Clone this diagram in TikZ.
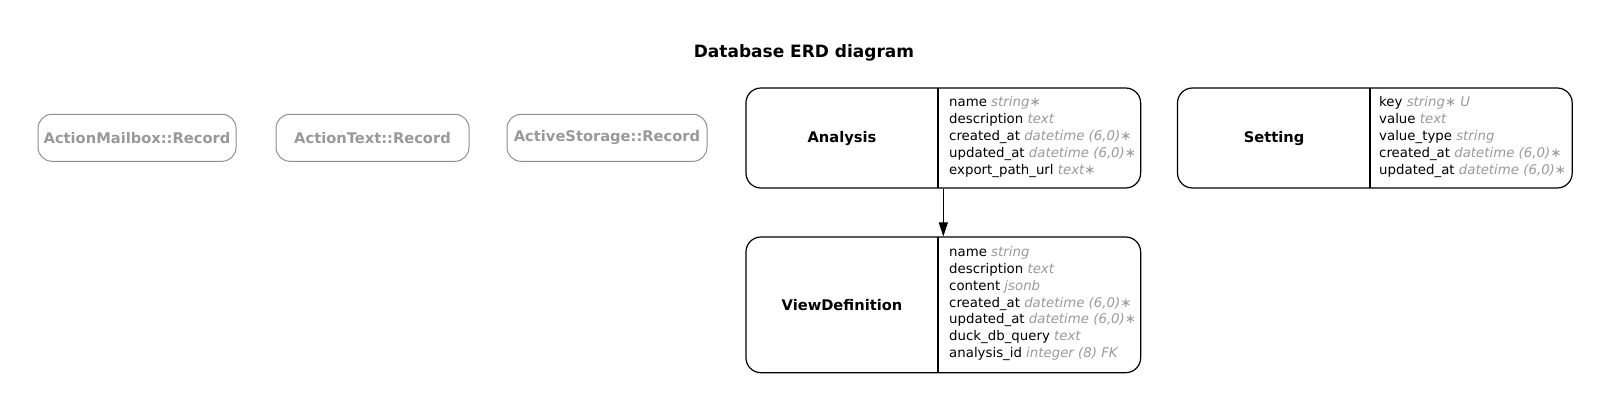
\documentclass[tikz,border=0pt]{standalone}
\usepackage{fontspec}
\setmainfont{DejaVu Sans}[ItalicFont={DejaVu Sans Oblique},BoldFont={DejaVu Sans Bold}]
\usetikzlibrary{arrows.meta}
\definecolor{attrgray}{HTML}{999999}
\definecolor{boxgray}{HTML}{8E8E8E}
\newcommand\ty[1]{{\color{attrgray}\itshape #1}}
\begin{document}
\begin{tikzpicture}[x=1pt,y=-1pt,
  entity/.style={draw, line width=1.2pt, rounded corners=15pt, inner sep=0pt, minimum width=394.7pt},
  ename/.style={font=\fontsize{14.67}{17}\selectfont\bfseries, inner sep=0pt},
  attr/.style={anchor=base west, inner sep=0pt, font=\fontsize{13.33}{16}\selectfont},
  ghost/.style={draw=boxgray, line width=1pt, rounded corners=14pt, minimum height=47pt, inner sep=0pt,
    text=attrgray, font=\fontsize{14.67}{17}\selectfont\bfseries},
  rel/.style={line width=1.2pt, -{Triangle[length=14pt,width=9pt]}},
  divider/.style={line width=1.2pt}
]
\useasboundingbox (0,0) rectangle (1610,411);

\node[font=\fontsize{17}{20}\selectfont\bfseries] (title) at (804,53.3) {Database ERD diagram};

% ghost boxes
\node[ghost, minimum width=198pt] (mailbox) at (137,137.8) {ActionMailbox::Record};
\node[ghost, minimum width=193pt] (actiontext) at (372.5,137.8) {ActionText::Record};
\node[ghost, minimum width=200pt] (storage) at (607,137.8) {ActiveStorage::Record};

% Analysis
\node[entity, minimum height=100pt] (an) at (943.3,138) {};
\draw[divider] (938,88) coordinate (an-dt) -- (938,188) coordinate (an-db);
\node[ename] (an-name) at (842,138.5) {Analysis};
\foreach \t [count=\i] in {{name \ty{string∗}},{description \ty{text}},{created\_at \ty{datetime (6,0)∗}},{updated\_at \ty{datetime (6,0)∗}},{export\_path\_url \ty{text∗}}}
  \node[attr] (an-r\i) at (949,{106.7+16.95*(\i-1)}) {\t};

% ViewDefinition
\node[entity, minimum height=135.7pt] (vd) at (943.3,304.85) {};
\draw[divider] (938,237) coordinate (vd-dt) -- (938,372.7) coordinate (vd-db);
\node[ename] (vd-name) at (842,305.3) {ViewDefinition};
\foreach \t [count=\i] in {{name \ty{string}},{description \ty{text}},{content \ty{jsonb}},{created\_at \ty{datetime (6,0)∗}},{updated\_at \ty{datetime (6,0)∗}},{duck\_db\_query \ty{text}},{analysis\_id \ty{integer (8) FK}}}
  \node[attr] (vd-r\i) at (949,{256.7+16.8*(\i-1)}) {\t};

% Setting
\node[entity, minimum height=100pt] (st) at (1374.85,138) {};
\draw[divider] (1370,88) coordinate (st-dt) -- (1370,188) coordinate (st-db);
\node[ename] (st-name) at (1274,138.5) {Setting};
\foreach \t [count=\i] in {{key \ty{string∗ U}},{value \ty{text}},{value\_type \ty{string}},{created\_at \ty{datetime (6,0)∗}},{updated\_at \ty{datetime (6,0)∗}}}
  \node[attr] (st-r\i) at (1379,{106.7+16.95*(\i-1)}) {\t};

% relation
\draw[rel] (an.south) -- (vd.north);
\end{tikzpicture}
\end{document}
